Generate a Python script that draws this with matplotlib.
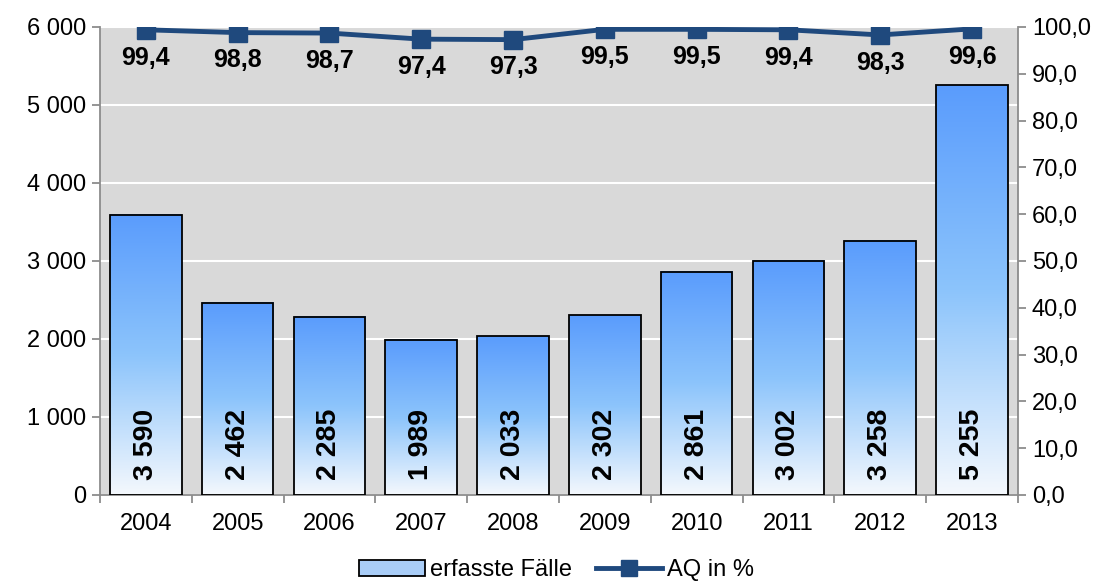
import matplotlib.pyplot as plt
import numpy as np
from matplotlib.colors import LinearSegmentedColormap
from matplotlib.patches import Patch
from matplotlib.lines import Line2D

plt.rcParams['font.family'] = ['Liberation Sans', 'DejaVu Sans']

years = ['2004', '2005', '2006', '2007', '2008', '2009', '2010', '2011', '2012', '2013']
faelle = [3590, 2462, 2285, 1989, 2033, 2302, 2861, 3002, 3258, 5255]
faelle_labels = ['3 590', '2 462', '2 285', '1 989', '2 033', '2 302', '2 861', '3 002', '3 258', '5 255']
aq = [99.4, 98.8, 98.7, 97.4, 97.3, 99.5, 99.5, 99.4, 98.3, 99.6]
left_ticks = [0, 1000, 2000, 3000, 4000, 5000, 6000]
left_labels = ['0', '1 000', '2 000', '3 000', '4 000', '5 000', '6 000']
right_ticks = [0, 10, 20, 30, 40, 50, 60, 70, 80, 90, 100]

line_col = '#1f497d'
axis_col = '#8c8c8c'

fig = plt.figure(figsize=(11.13, 5.83), dpi=100)
ax = fig.add_axes([0.0898, 0.151, 0.8248, 0.8027])
ax.set_facecolor('#d9d9d9')

x = np.arange(len(years))
bars = ax.bar(x, faelle, width=0.78, facecolor='none', edgecolor='black',
              linewidth=1.3, zorder=3)

# gradient fill per bar: blue at top, white at bottom
cmap = LinearSegmentedColormap.from_list('grad', ['#f4f8fd', '#8cc4fb', '#5a9cfd'])
grad = np.linspace(0, 1, 256).reshape(-1, 1)
for b in bars:
    ax.imshow(grad, extent=[b.get_x(), b.get_x() + b.get_width(), 0, b.get_height()],
              origin='lower', aspect='auto', cmap=cmap, zorder=2)

for xi, lab in zip(x, faelle_labels):
    ax.text(xi, 190, lab, rotation=90, ha='center', va='bottom',
            fontsize=20.5, fontweight='bold', zorder=4)

ax.set_xlim(-0.5, len(years) - 0.5)
ax.set_ylim(0, 6000)
ax.set_yticks(left_ticks)
ax.set_yticklabels(left_labels, fontsize=17)
ax.set_xticks(x)
ax.set_xticklabels(years, fontsize=17)
ax.set_xticks(np.arange(-0.5, len(years), 1), minor=True)
ax.tick_params(axis='x', which='major', length=0, pad=13)
ax.tick_params(axis='x', which='minor', length=6, width=1.3, color=axis_col)
ax.tick_params(axis='y', length=6, width=1.3, color=axis_col, pad=4)
ax.yaxis.grid(True, color='white', linewidth=1.5, zorder=1)
ax.set_axisbelow(True)
for s in ['top', 'right']:
    ax.spines[s].set_visible(False)
for s in ['left', 'bottom']:
    ax.spines[s].set_color(axis_col)
    ax.spines[s].set_linewidth(1.3)

ax2 = ax.twinx()
ax2.plot(x, aq, color=line_col, linewidth=3.5, marker='s', markersize=13, zorder=5)
for xi, v in zip(x, aq):
    ax2.annotate(f'{v:.1f}'.replace('.', ','), (xi, v), xytext=(0, -20),
                 textcoords='offset points', ha='center', va='center',
                 fontsize=18, fontweight='bold')
ax2.set_ylim(0, 100)
ax2.set_yticks(right_ticks)
ax2.set_yticklabels([f'{t:.1f}'.replace('.', ',') for t in right_ticks], fontsize=17)
ax2.tick_params(axis='y', length=6, width=1.3, color=axis_col, pad=4)
for s in ['top', 'left', 'bottom']:
    ax2.spines[s].set_visible(False)
ax2.spines['right'].set_color(axis_col)
ax2.spines['right'].set_linewidth(1.3)

handles = [Patch(facecolor='#a9cdf7', edgecolor='black', linewidth=1.3),
           Line2D([0], [0], color=line_col, linewidth=3.5, marker='s', markersize=12)]
fig.legend(handles, ['erfasste Fälle', 'AQ in %'], loc='center', ncol=2,
           bbox_to_anchor=(0.5, 0.022), frameon=False, fontsize=17,
           handlelength=2.8, handletextpad=0.2, columnspacing=1.0)

plt.savefig('out.png', dpi=100)
